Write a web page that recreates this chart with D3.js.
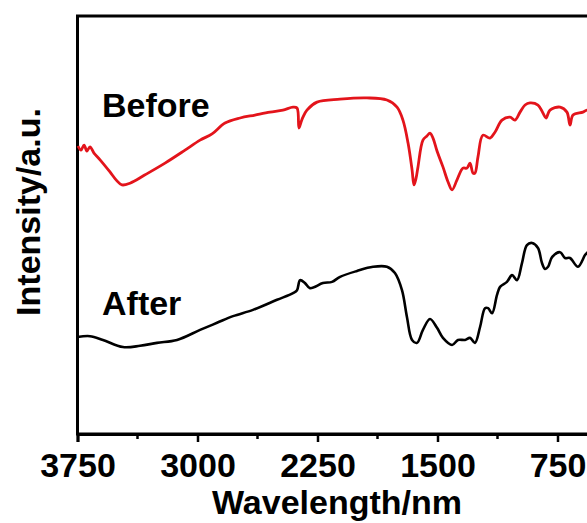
<!DOCTYPE html>
<html>
<head>
<meta charset="utf-8">
<script src="https://cdn.jsdelivr.net/npm/d3@7"></script>
<style>
  body { margin: 0; background: #fff; }
  svg { display: block; font-family: "Liberation Sans", Arial, sans-serif; }
</style>
</head>
<body>
<div id="chart"></div>
<script>
// Spectra: [wavenumber, intensity (a.u.)]
const beforeData = [
  [3747, 68.9], [3728, 67.9], [3709, 69.1], [3691, 67.7], [3672, 68.7], [3647, 67.2],
  [3609, 65.6], [3547, 62.7], [3509, 60.8], [3472, 59.6], [3422, 60.0], [3328, 62.0],
  [3203, 64.8], [3078, 67.9], [2984, 70.3], [2909, 71.8], [2828, 74.4], [2734, 75.6],
  [2641, 76.3], [2547, 77.0], [2466, 77.5], [2403, 78.2], [2378, 78.0], [2366, 73.2],
  [2353, 74.6], [2341, 75.8], [2316, 77.5], [2253, 79.4], [2109, 80.1], [1941, 80.4],
  [1816, 79.9], [1753, 78.2], [1716, 75.1], [1684, 69.6], [1659, 63.2], [1647, 59.6],
  [1634, 61.2], [1622, 63.9], [1591, 70.3], [1566, 71.3], [1547, 72.0], [1528, 70.8],
  [1503, 67.7], [1466, 63.9], [1434, 60.3], [1409, 58.4], [1378, 60.8], [1341, 63.6],
  [1316, 63.6], [1297, 64.8], [1278, 62.4], [1266, 62.4], [1247, 66.3], [1216, 71.5],
  [1172, 70.8], [1141, 72.2], [1097, 75.1], [1047, 75.8], [1016, 75.1], [984, 77.0],
  [953, 78.7], [922, 79.2], [872, 78.7], [841, 76.8], [822, 75.6], [797, 77.5],
  [734, 78.2], [691, 77.0], [672, 73.9], [653, 76.3], [591, 77.0], [566, 77.5], [516, 77.0]
];

const afterData = [
  [3750, 23.2], [3672, 23.4], [3591, 22.5], [3466, 20.8], [3359, 21.1], [3253, 21.8],
  [3128, 22.5], [2984, 24.9], [2878, 26.6], [2778, 28.2], [2653, 29.7], [2503, 32.1],
  [2403, 33.7], [2378, 34.4], [2359, 36.8], [2328, 36.1], [2297, 34.9], [2216, 36.1],
  [2159, 36.4], [2109, 37.6], [2003, 39.0], [1903, 40.0], [1816, 40.0], [1766, 38.5],
  [1722, 34.4], [1691, 28.0], [1659, 22.5], [1628, 21.8], [1591, 24.9], [1547, 27.5],
  [1503, 25.4], [1466, 23.0], [1409, 21.3], [1372, 22.5], [1328, 22.5], [1297, 23.0],
  [1266, 21.8], [1234, 25.6], [1203, 30.1], [1184, 30.1], [1159, 28.9], [1128, 33.3],
  [1109, 35.2], [1066, 36.4], [1034, 38.0], [1003, 36.8], [972, 40.9], [941, 45.2],
  [909, 45.7], [872, 44.5], [847, 40.9], [828, 39.5], [809, 40.0], [784, 42.3],
  [734, 43.5], [703, 42.1], [672, 42.1], [622, 40.0], [578, 42.8], [566, 43.3], [516, 44.5]
];

const majorTicks = [3750, 3000, 2250, 1500, 750];
const minorTicks = [3375, 2625, 1875, 1125];
const seriesLabels = ["Before", "After"];

const width = 587;
const height = 523;
const margin = { top: 16, left: 77.5, bottom: 89 };

const svg = d3.select("#chart")
  .append("svg")
  .attr("width", width)
  .attr("height", height);

// x runs right-to-left; right part of the frame falls off the canvas
const x = d3.scaleLinear()
  .domain([3750, 400])
  .range([margin.left, margin.left + 3350 * 0.16]);

const y = d3.scaleLinear()
  .domain([0, 100])
  .range([height - margin.bottom, margin.top]);

const plotBottom = height - margin.bottom;

// frame
svg.append("rect")
  .attr("x", margin.left)
  .attr("y", margin.top)
  .attr("width", x.range()[1] - margin.left + 20)
  .attr("height", plotBottom - margin.top)
  .attr("fill", "none")
  .attr("stroke", "#000")
  .attr("stroke-width", 3);

// bottom axis
const xAxis = svg.append("g")
  .attr("transform", `translate(0,${plotBottom})`)
  .call(d3.axisBottom(x)
    .tickValues(majorTicks)
    .tickSize(8)
    .tickPadding(11)
    .tickFormat(d3.format("d")));

xAxis.select(".domain").attr("stroke-width", 3);
xAxis.selectAll(".tick line").attr("stroke-width", 2.5);
xAxis.selectAll(".tick text")
  .attr("fill", "#000")
  .style("font-size", "34px")
  .style("font-weight", "bold")
  .style("font-family", "'Liberation Sans', Arial, sans-serif");

svg.append("g")
  .attr("transform", `translate(0,${plotBottom})`)
  .selectAll("line")
  .data(minorTicks)
  .join("line")
  .attr("x1", d => x(d))
  .attr("x2", d => x(d))
  .attr("y1", 0)
  .attr("y2", 5)
  .attr("stroke", "#000")
  .attr("stroke-width", 2.5);

// axis titles
svg.append("text")
  .attr("x", 337)
  .attr("y", 514)
  .attr("text-anchor", "middle")
  .style("font-size", "34px")
  .style("font-weight", "bold")
  .text("Wavelength/nm");

svg.append("text")
  .attr("transform", "translate(40,212) rotate(-90)")
  .attr("text-anchor", "middle")
  .style("font-size", "34px")
  .style("font-weight", "bold")
  .text("Intensity/a.u.");

// spectra
const line = d3.line()
  .x(d => x(d[0]))
  .y(d => y(d[1]))
  .curve(d3.curveCatmullRom.alpha(0.5));

svg.append("path")
  .datum(beforeData)
  .attr("d", line)
  .attr("fill", "none")
  .attr("stroke", "#e3141b")
  .attr("stroke-width", 2.8)
  .attr("stroke-linejoin", "round");

svg.append("path")
  .datum(afterData)
  .attr("d", line)
  .attr("fill", "none")
  .attr("stroke", "#000")
  .attr("stroke-width", 2.6)
  .attr("stroke-linejoin", "round");

// series labels
svg.selectAll(".series-label")
  .data(seriesLabels)
  .join("text")
  .attr("class", "series-label")
  .attr("x", 102)
  .attr("y", (d, i) => i === 0 ? 117 : 315)
  .style("font-size", "34px")
  .style("font-weight", "bold")
  .text(d => d);
</script>
</body>
</html>
